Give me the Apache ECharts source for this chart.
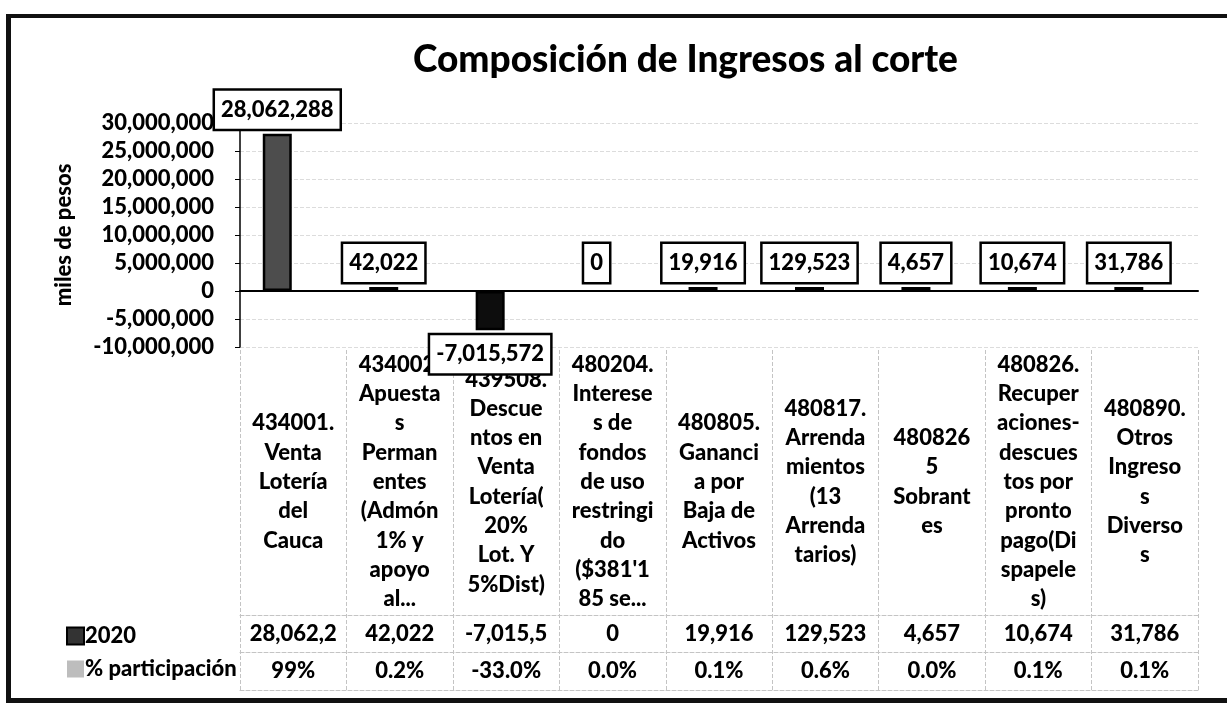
<!DOCTYPE html>
<html>
<head>
<meta charset="utf-8">
<title>Composición de Ingresos al corte</title>
<script src="https://cdn.jsdelivr.net/npm/echarts@6/dist/echarts.min.js"></script>
<style>
    html, body { margin: 0; padding: 0; background: #fff; overflow: hidden; }
    #chart { width: 1227px; height: 703px; }
    #frame {
        position: absolute; left: 6px; top: 14px; width: 1240px; height: 680px;
        border-left: 5px solid #111; border-top: 4px solid #111; border-bottom: 5px solid #111;
        pointer-events: none;
    }
</style>
</head>
<body>
<div id="chart"></div>
<div id="frame"></div>
<script>
// ======================
// DATOS
// ======================
const categories = [
    "434001.\nVenta\nLotería\ndel\nCauca",
    "434002.\nApuesta\ns\nPerman\nentes\n(Admón\n1% y\napoyo\nal...",
    "439508.\nDescue\nntos en\nVenta\nLotería(\n20%\nLot. Y\n5%Dist)",
    "480204.\nInterese\ns de\nfondos\nde uso\nrestringi\ndo\n($381'1\n85 se...",
    "480805.\nGananci\na por\nBaja de\nActivos",
    "480817.\nArrenda\nmientos\n(13\nArrenda\ntarios)",
    "480826\n5\nSobrant\nes",
    "480826.\nRecuper\naciones-\ndescues\ntos por\npronto\npago(Di\nspapele\ns)",
    "480890.\nOtros\nIngreso\ns\nDiverso\ns"
];
const values2020 = [28062288, 42022, -7015572, 0, 19916, 129523, 4657, 10674, 31786];
const pctLabels = ["99%", "0.2%", "-33.0%", "0.0%", "0.1%", "0.6%", "0.0%", "0.1%", "0.1%"];
const pctValues = pctLabels.map(s => parseFloat(s) / 100);
const yTicks = { min: -10000000, max: 30000000, interval: 5000000 };

// ======================
// ESTILO
// ======================
const FONT = "Lato, 'Open Sans', sans-serif";
const WEIGHT = 900;
const fmt = v => v.toLocaleString("en-US");
const TABLE_LINE = { color: "#c4c4c4", width: 1, type: "dashed" };

const chart = echarts.init(document.getElementById("chart"));

// eje auxiliar (solo texto / lineas de la tabla)
function tableAxis(offset, margin, formatter, extra) {
    return Object.assign({
        type: "category",
        data: categories,
        position: "bottom",
        offset: offset,
        axisLine: { show: false },
        axisTick: { show: false },
        axisLabel: {
            interval: 0,
            margin: margin,
            formatter: formatter,
            color: "#000",
            fontFamily: FONT,
            fontWeight: WEIGHT,
            fontSize: 22,
            lineHeight: 29.3,
            verticalAlign: "middle"
        }
    }, extra || {});
}

chart.setOption({
    backgroundColor: "#fff",
    textStyle: { fontFamily: FONT },
    animation: false,
    title: {
        text: "Composición de Ingresos al corte",
        left: 408,
        top: 37,
        textStyle: { fontFamily: FONT, fontWeight: WEIGHT, fontSize: 37, color: "#000" }
    },
    legend: {
        orient: "vertical",
        left: 61,
        top: 620,
        itemWidth: 17,
        itemHeight: 17,
        itemGap: 11,
        icon: "rect",
        textStyle: { fontFamily: FONT, fontWeight: WEIGHT, fontSize: 22, color: "#000", padding: [0, 0, 0, -4] }
    },
    grid: { left: 240, right: 29, top: 123, bottom: 356, containLabel: false },
    xAxis: [
        {
            type: "category",
            data: categories,
            axisLine: { onZero: true, lineStyle: { color: "#000", width: 2 } },
            axisTick: { show: false },
            axisLabel: { show: false }
        },
        tableAxis(0, 135, (v) => v),
        tableAxis(268, 19, (v, i) => fmt(values2020[i]), {
            axisLine: { show: true, lineStyle: TABLE_LINE }
        }),
        tableAxis(305, 19, (v, i) => pctLabels[i], {
            axisLine: { show: true, lineStyle: TABLE_LINE }
        }),
        tableAxis(343, 10, () => "", {
            axisLine: { show: true, lineStyle: TABLE_LINE },
            axisTick: { show: true, inside: true, length: 340, interval: 0, lineStyle: TABLE_LINE }
        })
    ],
    yAxis: {
        type: "value",
        min: yTicks.min,
        max: yTicks.max,
        interval: yTicks.interval,
        name: "miles de pesos",
        nameLocation: "middle",
        nameRotate: 90,
        nameGap: 165,
        nameTextStyle: { fontFamily: FONT, fontWeight: WEIGHT, fontSize: 22, color: "#000" },
        axisLine: { show: true, lineStyle: { color: "#000", width: 1.5 } },
        axisTick: { show: true, length: 5, lineStyle: { color: "#000" } },
        axisLabel: {
            margin: 26,
            formatter: v => fmt(v),
            color: "#000",
            fontFamily: FONT,
            fontWeight: WEIGHT,
            fontSize: 22
        },
        splitLine: { show: true, lineStyle: { color: "#dcdcdc", type: "dashed" } }
    },
    series: [
        {
            name: "2020",
            type: "bar",
            barWidth: 29,
            barGap: "10%",
            barMinHeight: 4,
            itemStyle: { color: "#333", borderColor: "#000", borderWidth: 2.5 },
            label: {
                show: true,
                distance: 5,
                formatter: p => fmt(p.value),
                color: "#000",
                fontFamily: FONT,
                fontWeight: WEIGHT,
                fontSize: 22,
                lineHeight: 26,
                backgroundColor: "#fff",
                borderColor: "#000",
                borderWidth: 2.5,
                padding: [6, 6]
            },
            data: values2020.map(v => ({
                value: v,
                label: { position: v < 0 ? "bottom" : "top" },
                itemStyle: {
                    color: v === 0 ? "transparent" : (v < 0 ? "#0d0d0d" : "#4d4d4d"),
                    borderWidth: v === 0 ? 0 : 2.5
                }
            }))
        },
        {
            name: "% participación",
            type: "bar",
            barWidth: 29,
            itemStyle: { color: "#bdbdbd" },
            data: pctValues
        }
    ]
});

// las filas de la tabla truncan como en Excel
chart.setOption({
    xAxis: [{}, {}, { axisLabel: { width: 95, overflow: "truncate", ellipsis: "" } }, {}, {}]
});
</script>
</body>
</html>
